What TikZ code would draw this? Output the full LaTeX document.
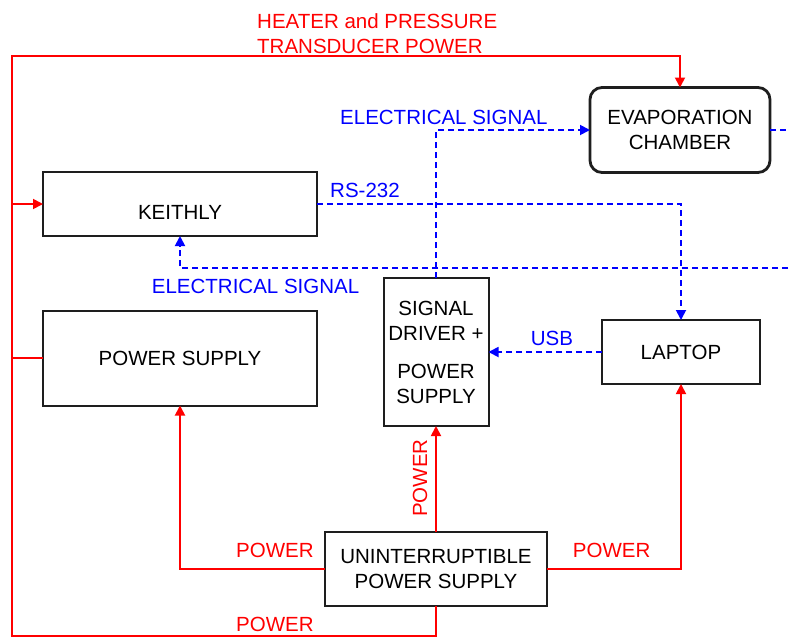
\documentclass[tikz,border=0pt]{standalone}
\usepackage{fontspec}
\setmainfont{Liberation Sans}
\usetikzlibrary{arrows.meta}
\definecolor{lred}{RGB}{255,0,0}
\definecolor{lblue}{RGB}{0,0,255}
\definecolor{lblk}{RGB}{30,30,30}
\begin{document}
\begin{tikzpicture}[x=1pt,y=-1pt,
  font=\fontsize{20.5}{25}\selectfont,
  box/.style={draw=lblk, line width=2pt, inner sep=0pt, outer sep=0pt},
  pwr/.style={draw=lred, line width=1.8pt},
  sigline/.style={draw=lblue, line width=1.8pt, dash pattern=on 6pt off 4pt},
  tip/.style={-{Triangle[length=10pt,width=10pt]}},
  rlab/.style={text=lred, inner sep=0pt, anchor=west},
  blab/.style={text=lblue, inner sep=0pt, anchor=west}]
\useasboundingbox (0,0) rectangle (790,638);
\clip (0,0) rectangle (790,638);
\fill[white] (0,0) rectangle (790,638);

% boxes
\node[box, minimum width=274pt, minimum height=64pt, text height=30.7pt, text depth=0pt] (keithly) at (180,204) {KEITHLY};
\node[box, minimum width=274pt, minimum height=95pt] (psu) at (180,358) {POWER SUPPLY};
\node[box, rounded corners=12pt, line width=2.8pt, minimum width=180pt, minimum height=85pt, align=center] (evap) at (680,130) {EVAPORATION\\CHAMBER};
\node[box, minimum width=105pt, minimum height=148pt, align=center] (driver) at (436,352) {SIGNAL\\DRIVER +\\[13pt]POWER\\SUPPLY};
\node[box, minimum width=158pt, minimum height=64pt] (laptop) at (681,352) {LAPTOP};
\node[box, minimum width=222pt, minimum height=74pt, align=center] (ups) at (436,569) {UNINTERRUPTIBLE\\POWER SUPPLY};

% power connectors
\draw[pwr, tip] (ups.south) -- (436,636) -- (12,636) -- (12,56) -| (evap.north);
\draw[pwr, tip] (psu.west) -- (12,358) |- (keithly.west);
\draw[pwr, tip] (ups.west) -| (psu.south);
\draw[pwr, tip] (ups.north) -- (driver.south);
\draw[pwr, tip] (ups.east) -| (laptop.south);

% signal connectors
\draw[sigline, tip] (keithly.east) -| (laptop.north);
\draw[sigline, tip] (driver.north) |- (evap.west);
\draw[sigline, tip] (evap.east) -- (800,130) -- (800,268) -| (keithly.south);
\draw[sigline, tip] (laptop.west) -- (driver.east);

% labels
\node[rlab, align=left] (heatlab) at (257,33.5) {HEATER and PRESSURE\\TRANSDUCER POWER};
\node[blab] (es1) at (340,117.5) {ELECTRICAL SIGNAL};
\node[blab] (rs) at (330,190.5) {RS-232};
\node[blab] (es2) at (151.7,286) {ELECTRICAL SIGNAL};
\node[blab] (usb) at (530.7,338) {USB};
\node[rlab] (p1) at (236,550) {POWER};
\node[rlab] (p2) at (236,624) {POWER};
\node[rlab] (p3) at (572.7,550) {POWER};
\node[text=lred, inner sep=0pt, rotate=90] (p4) at (420,478) {POWER};
\end{tikzpicture}
\end{document}
